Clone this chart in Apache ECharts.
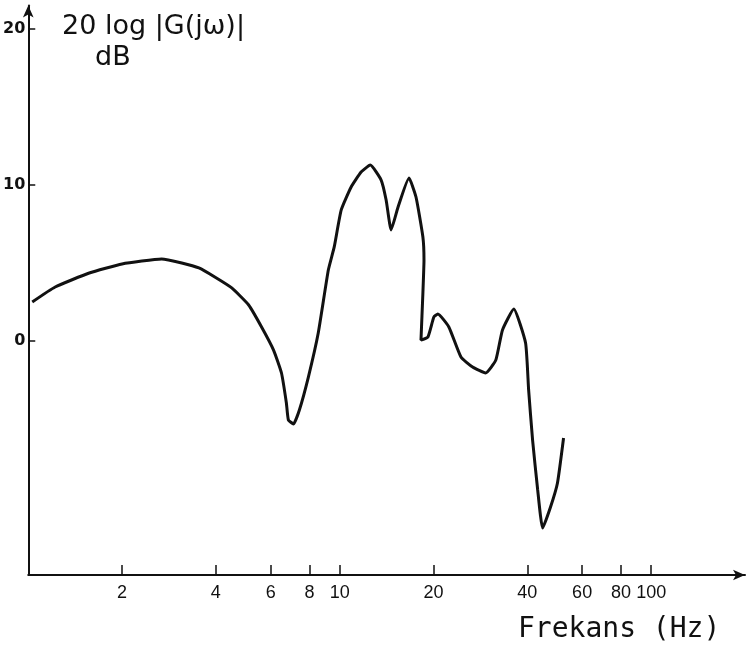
<!DOCTYPE html>
<html>
<head>
<meta charset="utf-8">
<script src="https://cdn.jsdelivr.net/npm/echarts@6/dist/echarts.min.js"></script>
<style>
  html, body { margin: 0; padding: 0; background: #fff; }
  #chart { width: 749px; height: 652px; }
</style>
</head>
<body>
<div id="chart"></div>
<script>
// frequency (Hz) and gain (dB)
const freq = [1.03, 1.22, 1.57, 2.0, 2.68, 3.11, 3.53, 3.97, 4.5, 5.1, 5.61, 6.13, 6.5, 6.74, 6.84,
  7.1, 7.42, 7.93, 8.53, 9.19, 9.6, 10.11, 10.88, 11.71, 12.53, 13.58, 14.09, 14.62, 15.39, 16.68,
  17.57, 18.49, 18.64, 18.49, 18.23, 19.19, 20.05, 20.65, 22.4, 24.5, 26.7, 29.4, 31.7, 33.3, 36.2,
  39.5, 40.4, 41.6, 43.2, 44.8, 47.5, 50.0, 52.3]
const gain = [2.5, 3.46, 4.36, 4.94, 5.26, 5.0, 4.68, 4.1, 3.4, 2.31, 0.9, -0.58, -2.05, -3.97, -5.06,
  -5.32, -4.42, -2.31, 0.51, 4.55, 6.03, 8.4, 9.87, 10.83, 11.28, 10.32, 9.04, 7.12, 8.59, 10.45,
  9.23, 6.67, 5.19, 3.08, 0.06, 0.26, 1.54, 1.73, 0.9, -1.03, -1.67, -2.05, -1.22, 0.71, 2.05,
  -0.13, -3.14, -6.35, -9.55, -11.99, -10.64, -9.1, -6.22]
const xTicks = [2, 4, 6, 8, 10, 20, 40, 60, 80, 100]
const yTicks = [0, 10, 20]

const chart = echarts.init(document.getElementById('chart'))
const ink = '#111'

const option = {
  animation: false,
  backgroundColor: '#fff',
  grid: { left: 26, right: 4, top: 5.6, bottom: 77, containLabel: false },
  xAxis: {
    type: 'log',
    logBase: 10,
    min: 1,
    max: 200,
    axisLine: {
      onZero: false,
      lineStyle: { color: ink, width: 2 },
      symbol: ['none', 'arrow'],
      symbolSize: [8, 12]
    },
    axisTick: {
      inside: true,
      length: 10,
      customValues: xTicks,
      lineStyle: { color: ink, width: 1.5 }
    },
    axisLabel: {
      customValues: xTicks,
      color: ink,
      fontSize: 18,
      fontFamily: 'Liberation Sans',
      margin: 9
    },
    splitLine: { show: false }
  },
  yAxis: {
    type: 'value',
    min: -15,
    max: 21.5,
    axisLine: {
      lineStyle: { color: ink, width: 2 },
      symbol: ['none', 'arrow'],
      symbolSize: [8, 12]
    },
    axisTick: {
      inside: true,
      length: 7,
      customValues: yTicks,
      lineStyle: { color: ink, width: 1.5 }
    },
    axisLabel: {
      customValues: yTicks,
      color: ink,
      fontSize: 16,
      fontWeight: 'bold',
      fontFamily: 'DejaVu Sans',
      margin: 3
    },
    splitLine: { show: false }
  },
  graphic: [
    { type: 'text', left: 62, top: 13,
      style: { text: '20 log |G(jω)|', fontSize: 27, fontFamily: 'DejaVu Sans', fill: ink } },
    { type: 'text', left: 95, top: 44,
      style: { text: 'dB', fontSize: 27, fontFamily: 'DejaVu Sans', fill: ink } },
    { type: 'text', left: 518, top: 616,
      style: { text: 'Frekans (Hz)', fontSize: 28, fontFamily: 'DejaVu Sans Mono', fill: ink } }
  ],
  series: [{
    type: 'line',
    data: freq.map((f, i) => [f, gain[i]]),
    showSymbol: false,
    smooth: 0.15,
    lineStyle: { color: ink, width: 3 }
  }]
}

chart.setOption(option)
</script>
</body>
</html>
